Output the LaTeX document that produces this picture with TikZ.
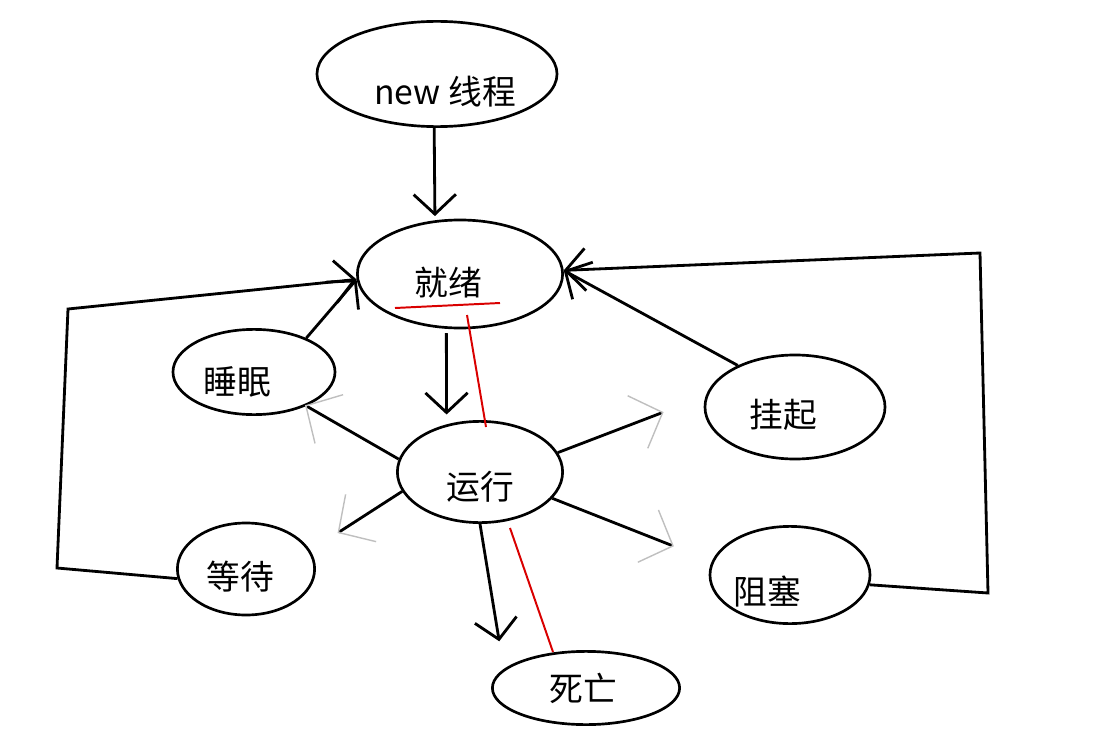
\documentclass[tikz,border=0pt]{standalone}
\usepackage{fontspec}
\newfontfamily\cjk{Noto Sans CJK SC}
\usetikzlibrary{shapes.geometric,arrows.meta}

\begin{document}
\begin{tikzpicture}[x=0.025cm,y=-0.025cm,
    state/.style={ellipse,draw,line width=1.9pt,inner sep=0pt},
    txt/.style={font=\cjk\fontsize{24}{28}\selectfont,inner sep=0pt},
    link/.style={line width=2pt},
    arr/.style={link,-{Straight Barb[length=14pt,width=30pt]}},
    hint/.style={link,-{Straight Barb[color=gray!50,line width=1pt,length=19pt,width=40pt,sep=9pt]}},
    redline/.style={red!85!black,line width=1.4pt}]

        \useasboundingbox (0,0) rectangle (1098,736);

        % States
        \node[state,minimum width=6cm,minimum height=2.63cm,
              label={[txt,shift={(8,18)}]center:new 线程}] (new) at (437,74) {};
        \node[state,minimum width=5.13cm,minimum height=2.7cm,
              label={[txt,shift={(-12,9)}]center:就绪}] (ready) at (460,274) {};
        \node[state,minimum width=4.05cm,minimum height=2.13cm,
              label={[txt,shift={(-17,10)}]center:睡眠}] (sleep) at (254,372) {};
        \node[state,minimum width=4.13cm,minimum height=2.53cm,
              label={[txt,shift={(0,15)}]center:运行}] (run) at (480,472) {};
        \node[state,minimum width=4.5cm,minimum height=2.6cm,
              label={[txt,shift={(-12,8)}]center:挂起}] (susp) at (795,407) {};
        \node[state,minimum width=3.43cm,minimum height=2.3cm,
              label={[txt,shift={(-6,8)}]center:等待}] (wait) at (246,569) {};
        \node[state,minimum width=4cm,minimum height=2.43cm,
              label={[txt,shift={(-23,17)}]center:阻塞}] (block) at (790,575) {};
        \node[state,minimum width=4.68cm,minimum height=1.83cm,
              label={[txt,shift={(-3,0)}]center:死亡}] (dead) at (586,688) {};

        % Corners of the long returns
        \coordinate (wl1) at (57,568);
        \coordinate (wl2) at (68,309);
        \coordinate (br1) at (988,593);
        \coordinate (br2) at (980,253);

        % Main path
        \draw[arr,shorten >=3pt] (new.-93) -- (ready.115);
        \draw[arr,shorten <=3pt,shorten >=7pt] (ready.-104) -- (run.125);
        \draw[arr,shorten >=20pt] (run.-90) -- (dead.167);

        % Out of running
        \draw[hint,shorten >=-10pt] (run.171) -- (sleep.-33);
        \draw[hint,shorten >=14pt] (run.194) -- (wait.16);
        \draw[hint,shorten >=23pt] (run.14) -- (susp.173);
        \draw[hint,shorten >=20pt] (run.-20) -- (block.170);

        % Back to ready
        \draw[arr] (sleep.33) -- (ready.183);
        \draw[arr] (wait.188) -- (wl1) -- (wl2) -- (ready.183);
        \draw[arr] (susp.144) -- (ready.2);
        \draw[arr] (block.-7) -- (br1) -- (br2) -- (ready.2);

        % Red strokes
        \draw[redline] (395,308) -- (500,303);
        \draw[redline] (467,315) -- (486,427);
        \draw[redline] (510,528) -- (553,652);

    \end{tikzpicture}
\end{document}
